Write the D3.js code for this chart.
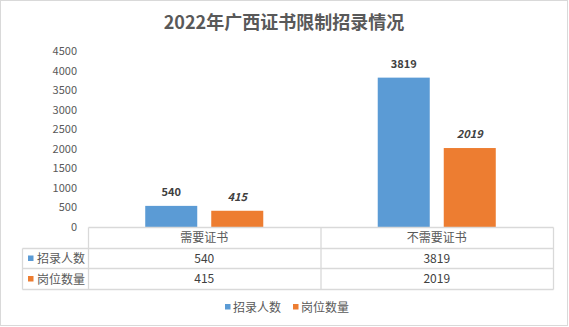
<!DOCTYPE html>
<html>
<head>
<meta charset="utf-8">
<script src="https://cdn.jsdelivr.net/npm/d3@7"></script>
<style>
  html, body { margin: 0; padding: 0; background: #fff; }
  svg { display: block; font-family: "Noto Sans CJK SC", "Noto Sans", sans-serif; }
</style>
</head>
<body>
<svg id="chart" width="569" height="327"></svg>
<script>
// Chart data
const title = "2022年广西证书限制招录情况";
const categories = ["需要证书", "不需要证书"];
const seriesNames = ["招录人数", "岗位数量"];
const recruits = [540, 3819];
const positions = [415, 2019];
const yTicks = [0, 500, 1000, 1500, 2000, 2500, 3000, 3500, 4000, 4500];
const colors = ["#5b9bd5", "#ed7d31"];

const seriesValues = [recruits, positions];

const W = 569, H = 327;
const svg = d3.select("#chart");
const textColor = "#595959";
const gridColor = "#d9d9d9";

// frame
svg.append("rect")
  .attr("x", 0.5).attr("y", 0.5)
  .attr("width", W - 2).attr("height", H - 2)
  .attr("fill", "#fff").attr("stroke", gridColor);

// title
svg.append("text")
  .attr("x", 284).attr("y", 29)
  .attr("text-anchor", "middle")
  .attr("font-size", 18).attr("font-weight", "bold")
  .attr("fill", textColor)
  .text(title);

// plot area
const plot = { left: 88, right: 553, top: 51, bottom: 227 };

const x0 = d3.scaleBand()
  .domain(categories)
  .range([plot.left, plot.right])
  .padding(0);

const x1 = d3.scaleBand()
  .domain(seriesNames)
  .range([0, x0.bandwidth()])
  .paddingInner(0.2121)
  .paddingOuter(0.867);

const y = d3.scaleLinear()
  .domain([0, 4500])
  .range([plot.bottom, plot.top]);

// y axis labels (no line, no ticks)
const yAxis = d3.axisLeft(y).tickValues(yTicks).tickSize(0).tickPadding(0).tickFormat(d3.format("d"));
const yG = svg.append("g")
  .attr("transform", `translate(77,0)`)
  .call(yAxis);
yG.select(".domain").remove();
yG.selectAll("text")
  .attr("font-family", "\"Noto Sans CJK SC\", \"Noto Sans\", sans-serif")
  .attr("font-size", 11)
  .attr("fill", textColor);

// bars
const groups = svg.append("g").selectAll("g")
  .data(categories)
  .join("g")
  .attr("transform", d => `translate(${x0(d)},0)`);

groups.selectAll("rect")
  .data((c, i) => seriesNames.map((s, k) => ({ s, k, v: seriesValues[k][i] })))
  .join("rect")
  .attr("x", d => x1(d.s))
  .attr("y", d => y(d.v))
  .attr("width", x1.bandwidth())
  .attr("height", d => y(0) - y(d.v))
  .attr("fill", d => colors[d.k]);

// value labels above bars
groups.selectAll("text.val")
  .data((c, i) => seriesNames.map((s, k) => ({ s, k, v: seriesValues[k][i] })))
  .join("text")
  .attr("class", "val")
  .attr("x", d => x1(d.s) + x1.bandwidth() / 2)
  .attr("y", d => y(d.v) - 10)
  .attr("text-anchor", "middle")
  .attr("font-size", 11)
  .attr("font-weight", "bold")
  .attr("font-style", d => d.k === 1 ? "italic" : "normal")
  .attr("fill", "#404040")
  .text(d => d.v);

// data table
const table = svg.append("g");
const rowH = [227.5, 248.5, 268.5, 289.5];
const tableLeft = 22.5;
const lineAttrs = sel => sel.attr("stroke", gridColor).attr("stroke-width", 1.3).attr("fill", "none");

// header row frame
table.append("line").attr("x1", plot.left + 0.5).attr("x2", plot.right + 0.5)
  .attr("y1", rowH[0]).attr("y2", rowH[0]).call(lineAttrs);
// row lines
rowH.slice(1).forEach(yy => {
  table.append("line").attr("x1", tableLeft).attr("x2", plot.right + 0.5)
    .attr("y1", yy).attr("y2", yy).call(lineAttrs);
});
// vertical lines
table.append("line").attr("x1", tableLeft).attr("x2", tableLeft)
  .attr("y1", rowH[1]).attr("y2", rowH[3]).call(lineAttrs);
[plot.left + 0.5, x0(categories[1]) + 0.5, plot.right + 0.5].forEach(xx => {
  table.append("line").attr("x1", xx).attr("x2", xx)
    .attr("y1", rowH[0]).attr("y2", rowH[3]).call(lineAttrs);
});

// header labels
categories.forEach(c => {
  table.append("text")
    .attr("x", x0(c) + x0.bandwidth() / 2)
    .attr("y", (rowH[0] + rowH[1]) / 2 + 4)
    .attr("text-anchor", "middle")
    .attr("font-size", 12)
    .attr("fill", textColor)
    .text(c);
});

// series rows
seriesNames.forEach((s, k) => {
  const cy = (rowH[k + 1] + rowH[k + 2]) / 2;
  table.append("rect")
    .attr("x", 28).attr("y", cy - 3)
    .attr("width", 5.5).attr("height", 5.5)
    .attr("fill", colors[k]);
  table.append("text")
    .attr("x", 37).attr("y", cy + 4.5)
    .attr("font-size", 12)
    .attr("fill", textColor)
    .text(s);
  categories.forEach((c, i) => {
    table.append("text")
      .attr("x", x0(c) + x0.bandwidth() / 2)
      .attr("y", cy + 4)
      .attr("text-anchor", "middle")
      .attr("font-size", 12)
      .attr("fill", "#404040")
      .text(seriesValues[k][i]);
  });
});

// legend
const legend = svg.append("g");
const legendX = [225, 293];
seriesNames.forEach((s, k) => {
  legend.append("rect")
    .attr("x", legendX[k]).attr("y", 304)
    .attr("width", 5.5).attr("height", 5.5)
    .attr("fill", colors[k]);
  legend.append("text")
    .attr("x", legendX[k] + 8).attr("y", 311.5)
    .attr("font-size", 12)
    .attr("fill", textColor)
    .text(s);
});
</script>
</body>
</html>
